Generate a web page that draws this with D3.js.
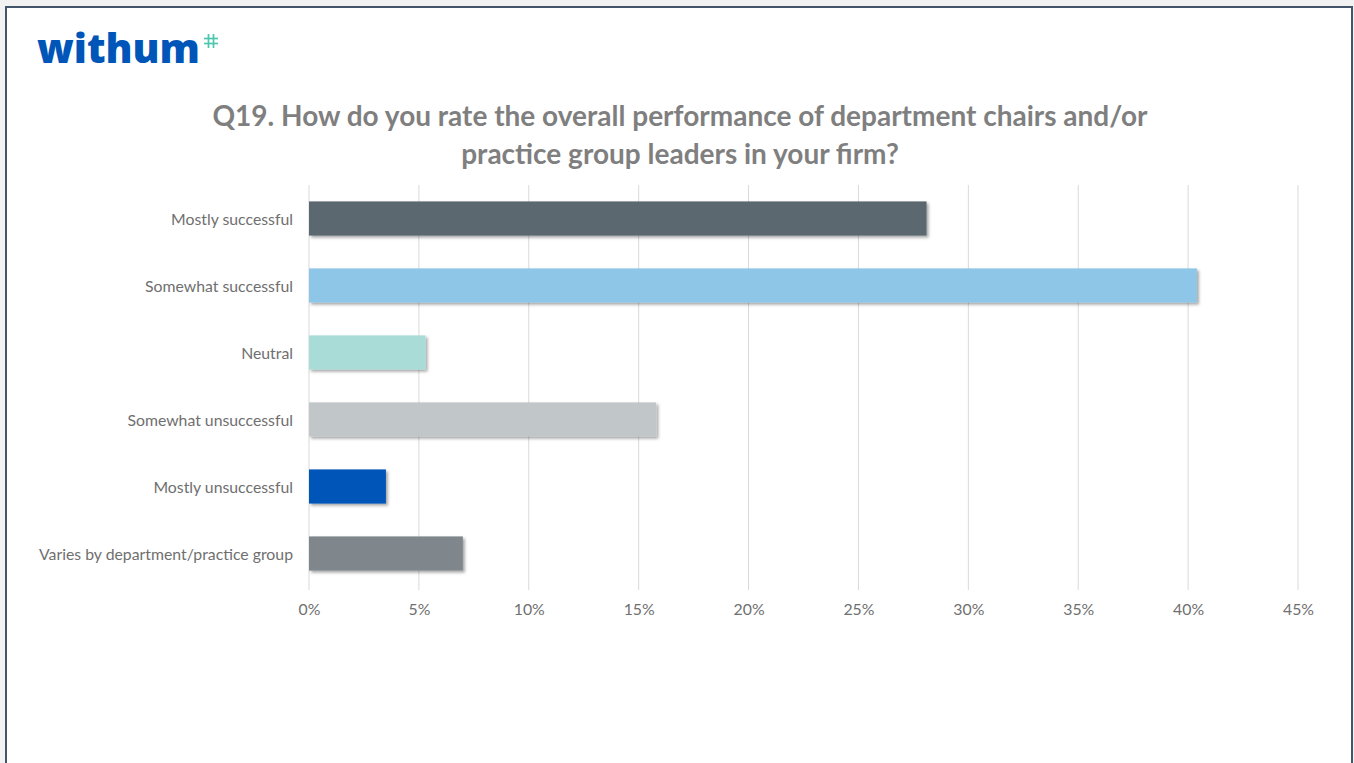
<!DOCTYPE html>
<html>
<head>
<meta charset="utf-8">
<script src="https://cdn.jsdelivr.net/npm/d3@7"></script>
<style>
  body { margin: 0; background: #f2f2f2; }
  svg { display: block; font-family: Lato, "Open Sans", sans-serif; }
</style>
</head>
<body>
<div id="chart"></div>
<script>
// survey answers, top to bottom
var categories = ['Mostly successful', 'Somewhat successful', 'Neutral',
    'Somewhat unsuccessful', 'Mostly unsuccessful', 'Varies by department/practice group'];
var values = [0.281, 0.404, 0.053, 0.158, 0.035, 0.070];
var colors = ['#5b6770', '#8ec6e8', '#a9dcd6', '#c1c6c9', '#0055b8', '#7f878c'];
var tickValues = [0, 0.05, 0.10, 0.15, 0.20, 0.25, 0.30, 0.35, 0.40, 0.45];
var titleLines = ['Q19. How do you rate the overall performance of department chairs and/or',
    'practice group leaders in your firm?'];

var width = 1354, height = 763;

var svg = d3.select('#chart').append('svg')
    .attr('width', width)
    .attr('height', height);

// drop shadow like the office chart
var defs = svg.append('defs');
var f = defs.append('filter').attr('id', 'shadow')
    .attr('x', '-5%').attr('y', '-20%').attr('width', '115%').attr('height', '160%');
f.append('feDropShadow')
    .attr('dx', 2).attr('dy', 2).attr('stdDeviation', 1.5)
    .attr('flood-color', '#000').attr('flood-opacity', 0.35);

// slide frame
svg.append('rect')
    .attr('x', 6).attr('y', 7)
    .attr('width', 1346).attr('height', 770)
    .attr('fill', '#fff')
    .attr('stroke', '#44546a')
    .attr('stroke-width', 2);

// logo
svg.append('text')
    .attr('x', 37).attr('y', 63)
    .attr('fill', '#0055b8')
    .attr('font-family', '"Open Sans", sans-serif')
    .attr('font-weight', 800)
    .attr('font-size', 41)
    .attr('textLength', 163)
    .attr('lengthAdjust', 'spacingAndGlyphs')
    .text('withum');
var px = 211, py = 41;
var plus = svg.append('g').attr('stroke', '#4cc7b0').attr('stroke-width', 1.7);
plus.append('line').attr('x1', px - 2.5).attr('x2', px - 2.5).attr('y1', py - 7).attr('y2', py + 7);
plus.append('line').attr('x1', px + 2.5).attr('x2', px + 2.5).attr('y1', py - 7).attr('y2', py + 7);
plus.append('line').attr('x1', px - 7).attr('x2', px + 7).attr('y1', py - 2.5).attr('y2', py - 2.5);
plus.append('line').attr('x1', px - 7).attr('x2', px + 7).attr('y1', py + 2.5).attr('y2', py + 2.5);

// title
svg.append('g').selectAll('text')
    .data(titleLines)
    .enter().append('text')
    .attr('x', 680)
    .attr('y', function (d, i) { return 126 + i * 38; })
    .attr('text-anchor', 'middle')
    .attr('fill', '#7f7f7f')
    .attr('font-weight', 700)
    .attr('font-size', 28)
    .text(function (d) { return d; });

var margin = { left: 309, right: 1298, top: 185, bottom: 587 };

var x = d3.scaleLinear()
    .domain([0, 0.45])
    .range([margin.left, margin.right]);

var y = d3.scaleBand()
    .domain(categories)
    .range([margin.top, margin.bottom])
    .paddingInner(0.49)
    .paddingOuter(0.245);

// gridlines
svg.append('g').selectAll('line')
    .data(tickValues)
    .enter().append('line')
    .attr('x1', function (d) { return x(d); })
    .attr('x2', function (d) { return x(d); })
    .attr('y1', margin.top)
    .attr('y2', margin.bottom + 3)
    .attr('stroke', '#d9d9d9')
    .attr('stroke-width', 1);

// bars
svg.append('g').selectAll('rect')
    .data(values)
    .enter().append('rect')
    .attr('x', x(0))
    .attr('y', function (d, i) { return y(categories[i]); })
    .attr('width', function (d) { return x(d) - x(0); })
    .attr('height', y.bandwidth())
    .attr('fill', function (d, i) { return colors[i]; })
    .attr('filter', 'url(#shadow)');

// category labels
var yAxis = svg.append('g')
    .attr('transform', 'translate(' + (margin.left - 16) + ',1)')
    .call(d3.axisLeft(y).tickSize(0).tickPadding(0));
yAxis.select('.domain').remove();
yAxis.selectAll('text')
    .attr('fill', '#6f6f6f')
    .attr('font-size', 15.8)
    .attr('font-family', 'Lato, "Open Sans", sans-serif');

// value axis
var xAxis = svg.append('g')
    .attr('transform', 'translate(0,' + (margin.bottom + 17) + ')')
    .call(d3.axisBottom(x).tickValues(tickValues).tickSize(0).tickPadding(0)
        .tickFormat(d3.format('.0%')));
xAxis.select('.domain').remove();
xAxis.selectAll('text')
    .attr('fill', '#6f6f6f')
    .attr('font-size', 15.8)
    .attr('font-family', 'Lato, "Open Sans", sans-serif');
</script>
</body>
</html>
